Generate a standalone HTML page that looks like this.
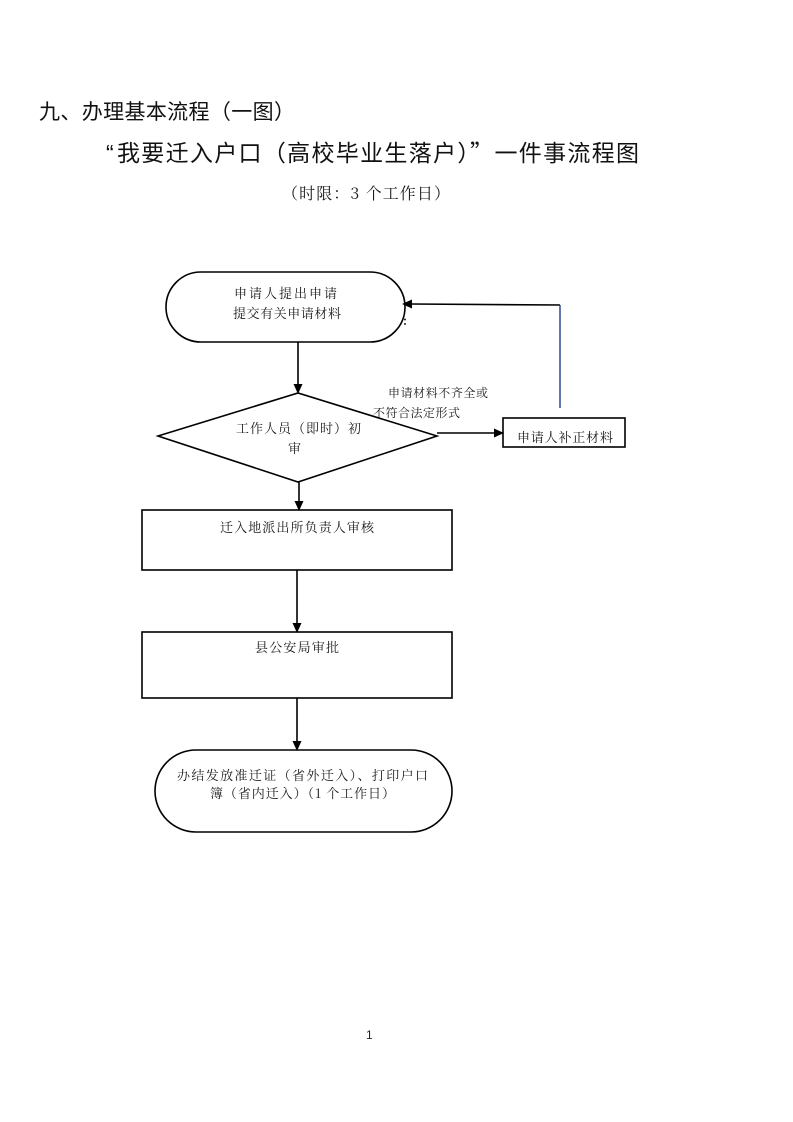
<!DOCTYPE html>
<html>
<head>
<meta charset="utf-8">
<style>
html,body{margin:0;padding:0;background:#fff;}
svg{display:block;}
.s{font-family:"Noto Serif CJK SC","WenQuanYi Zen Hei",serif;fill:#1a1a1a;}
.h{font-family:"Noto Sans CJK SC","WenQuanYi Zen Hei",sans-serif;fill:#111;}
</style>
</head>
<body>
<svg width="793" height="1122" viewBox="0 0 793 1122" xmlns="http://www.w3.org/2000/svg">
<rect width="793" height="1122" fill="#fff"/>

<!-- Headings -->
<text class="h" x="39" y="119" font-size="21" textLength="256" lengthAdjust="spacing">九、办理基本流程（一图）</text>
<text x="106" y="161" font-size="23" font-family="Liberation Sans, sans-serif" fill="#111">“</text>
<text class="h" x="117" y="161" font-size="23" textLength="522" lengthAdjust="spacing">我要迁入户口（高校毕业生落户）”一件事流程图</text>
<text class="s" x="282" y="199" font-size="16" textLength="168" lengthAdjust="spacing">（时限：3 个工作日）</text>

<g fill="none" stroke="#000" stroke-width="1.6">
  <!-- start terminal -->
  <rect x="166" y="272" width="239" height="70" rx="35" ry="35"/>
  <!-- diamond -->
  <polygon points="158,436 298,393 437,436 298,482"/>
  <!-- small rect -->
  <rect x="503" y="418" width="122" height="29"/>
  <!-- process rects -->
  <rect x="142" y="510" width="310" height="60"/>
  <rect x="142" y="632" width="310" height="66"/>
  <!-- end terminal -->
  <rect x="155" y="750" width="297" height="82" rx="41" ry="41"/>

  <!-- connectors -->
  <line x1="298" y1="342" x2="298" y2="385"/>
  <line x1="299" y1="482" x2="299" y2="502"/>
  <line x1="297" y1="570" x2="297" y2="624"/>
  <line x1="297" y1="698" x2="297" y2="742"/>
  <line x1="437" y1="433" x2="495" y2="433"/>
  <line x1="560" y1="305" x2="411" y2="304"/>
</g>
<line x1="560" y1="408" x2="560" y2="305" stroke="#1f3a8a" stroke-width="1.4"/>

<!-- arrowheads -->
<g fill="#000">
  <polygon points="298,394 293.5,384 302.5,384"/>
  <polygon points="299,511 294.5,501 303.5,501"/>
  <polygon points="297,633 292.5,623 301.5,623"/>
  <polygon points="297,751 292.5,741 301.5,741"/>
  <polygon points="504,433 494,428.5 494,437.5"/>
  <polygon points="402,304 412,299.5 412,308.5"/>
</g>

<!-- node text -->
<text class="s" x="234" y="298" font-size="13" textLength="103" lengthAdjust="spacing">申请人提出申请</text>
<text class="s" x="233" y="318" font-size="13" textLength="108" lengthAdjust="spacing">提交有关申请材料</text>
<text class="s" x="403" y="325" font-size="12" font-weight="bold">:</text>

<text class="s" x="236" y="433" font-size="13" textLength="125" lengthAdjust="spacing">工作人员（即时）初</text>
<text class="s" x="288" y="453" font-size="13">审</text>

<text class="s" x="388" y="397" font-size="12" textLength="100" lengthAdjust="spacing">申请材料不齐全或</text>
<text class="s" x="373" y="417" font-size="12" textLength="87" lengthAdjust="spacing">不符合法定形式</text>

<text class="s" x="517" y="442" font-size="13" textLength="96" lengthAdjust="spacing">申请人补正材料</text>

<text class="s" x="220" y="532" font-size="13" textLength="154" lengthAdjust="spacing">迁入地派出所负责人审核</text>
<text class="s" x="255" y="652" font-size="13" textLength="84" lengthAdjust="spacing">县公安局审批</text>

<text class="s" x="177" y="780" font-size="13" textLength="251" lengthAdjust="spacing">办结发放准迁证（省外迁入）、打印户口</text>
<text class="s" x="210" y="798" font-size="13" textLength="185" lengthAdjust="spacing">簿（省内迁入）（1 个工作日）</text>

<!-- page number -->
<text x="366" y="1039" font-size="12" font-family="Liberation Sans, sans-serif" fill="#222">1</text>
</svg>
</body>
</html>
